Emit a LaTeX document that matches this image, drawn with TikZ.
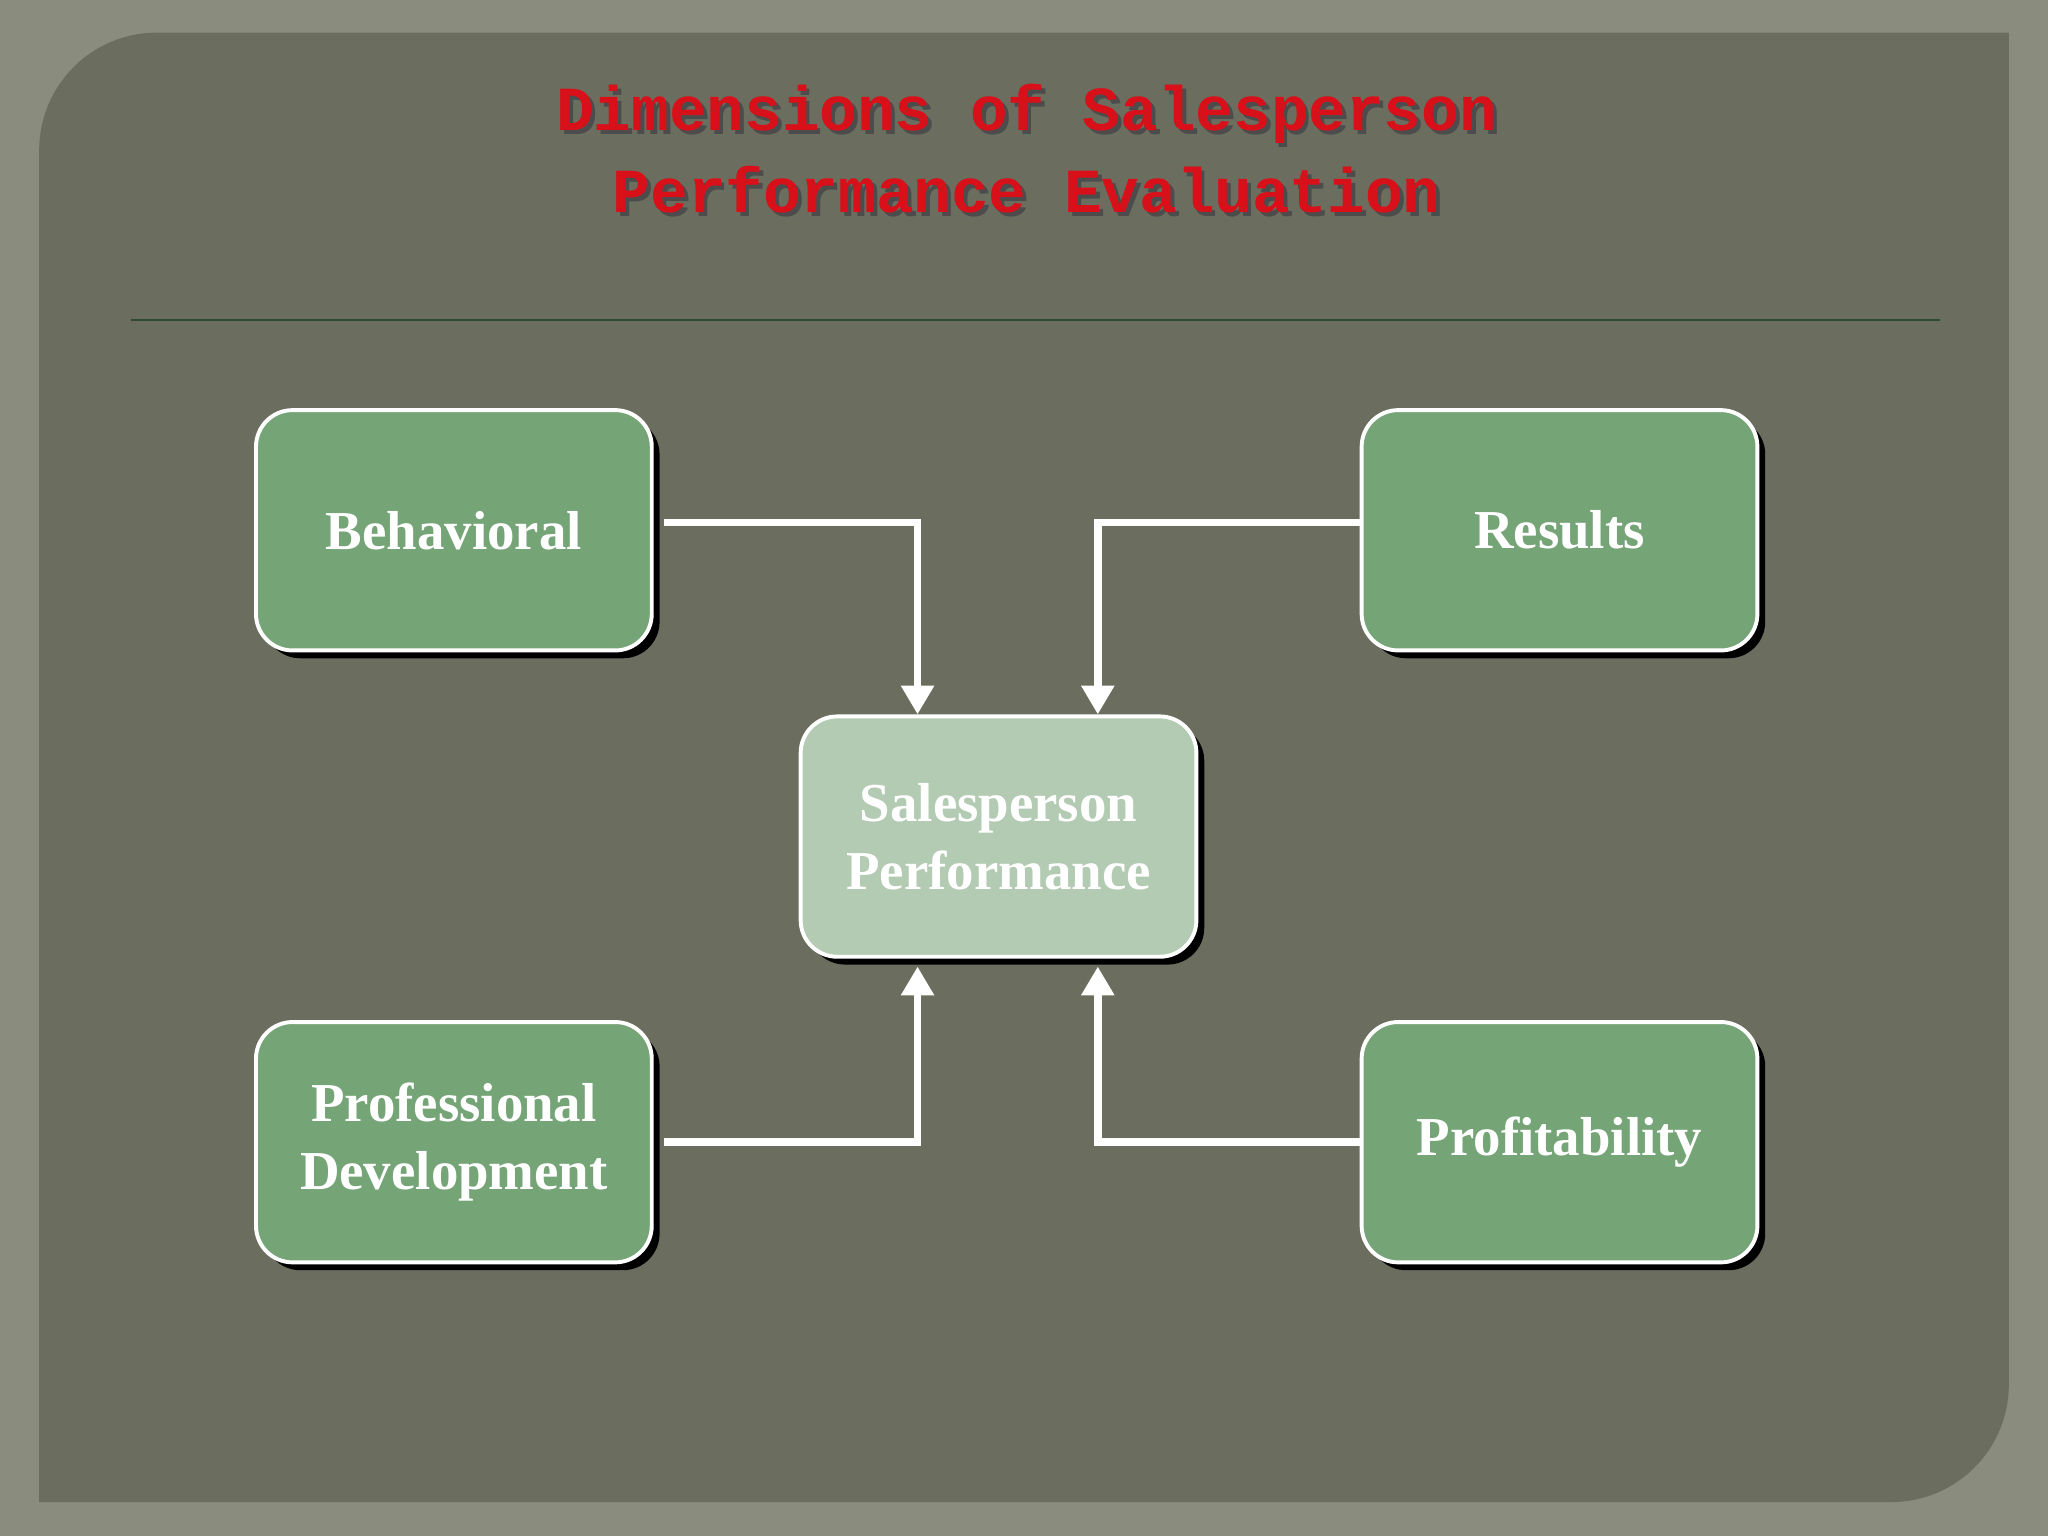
\documentclass[tikz,border=0pt]{standalone}
\usepackage{fontspec}
\setmainfont{Liberation Serif}
\newfontfamily\monof{Liberation Mono}
\usetikzlibrary{arrows.meta,shadows}
\definecolor{outer}{HTML}{8A8D7E}
\definecolor{panel}{HTML}{6B6E5E}
\definecolor{boxg}{HTML}{75A477}
\definecolor{boxl}{HTML}{B3CAB3}
\definecolor{ttl}{HTML}{D8101A}
\definecolor{rule}{HTML}{2E4A34}
\tikzset{
  box/.style={draw=white, line width=1.5pt, rounded corners=14pt, fill=boxg, minimum width=151.5pt, minimum height=92pt, text=white, font=\bfseries\fontsize{21}{26}\selectfont, align=center, drop shadow={shadow xshift=3pt, shadow yshift=-3pt, fill=black, opacity=1}},
  conn/.style={draw=white, line width=3pt, -{Triangle[length=11pt,width=12pt]}}
}
\begin{document}
\begin{tikzpicture}[x=0.5pt,y=-0.5pt]
\useasboundingbox (0,0) rectangle (1568,1176);
\fill[outer] (0,0) rectangle (1568,1176);
\fill[panel] (120,25) -- (1538,25) -- (1538,1060) arc[start angle=0,end angle=90,radius=90] -- (30,1150) -- (30,115) arc[start angle=180,end angle=270,radius=90] -- cycle;
\node[text=black!70,font=\monof\bfseries\fontsize{24}{31.5}\selectfont,align=center] at (789,117) {Dimensions of Salesperson\\Performance Evaluation};
\node (title) [text=ttl,font=\monof\bfseries\fontsize{24}{31.5}\selectfont,align=center] at (786,114) {Dimensions of Salesperson\\Performance Evaluation};
\draw[rule, line width=1pt] (100,245) coordinate (r1) -- (1485,245) coordinate (r2);
\node[box] (B) at (347.5,406) {Behavioral};
\node[box] (R) at (1194,406) {Results};
\node[box, fill=boxl] (S) at (764.5,640.5) {Salesperson\\Performance};
\node[box] (P) at (347.5,874.5) {Professional\\Development};
\node[box] (F) at (1194,874.5) {Profitability};
\draw[conn] ([xshift=4pt,yshift=3pt]B.east) -| ([xshift=-31pt]S.north);
\draw[conn] ([yshift=3pt]R.west) -| ([xshift=38pt]S.north);
\draw[conn] ([xshift=4pt]P.east) -| ([xshift=-31pt,yshift=-3pt]S.south);
\draw[conn] (F.west) -| ([xshift=38pt,yshift=-3pt]S.south);
\end{tikzpicture}
\end{document}
